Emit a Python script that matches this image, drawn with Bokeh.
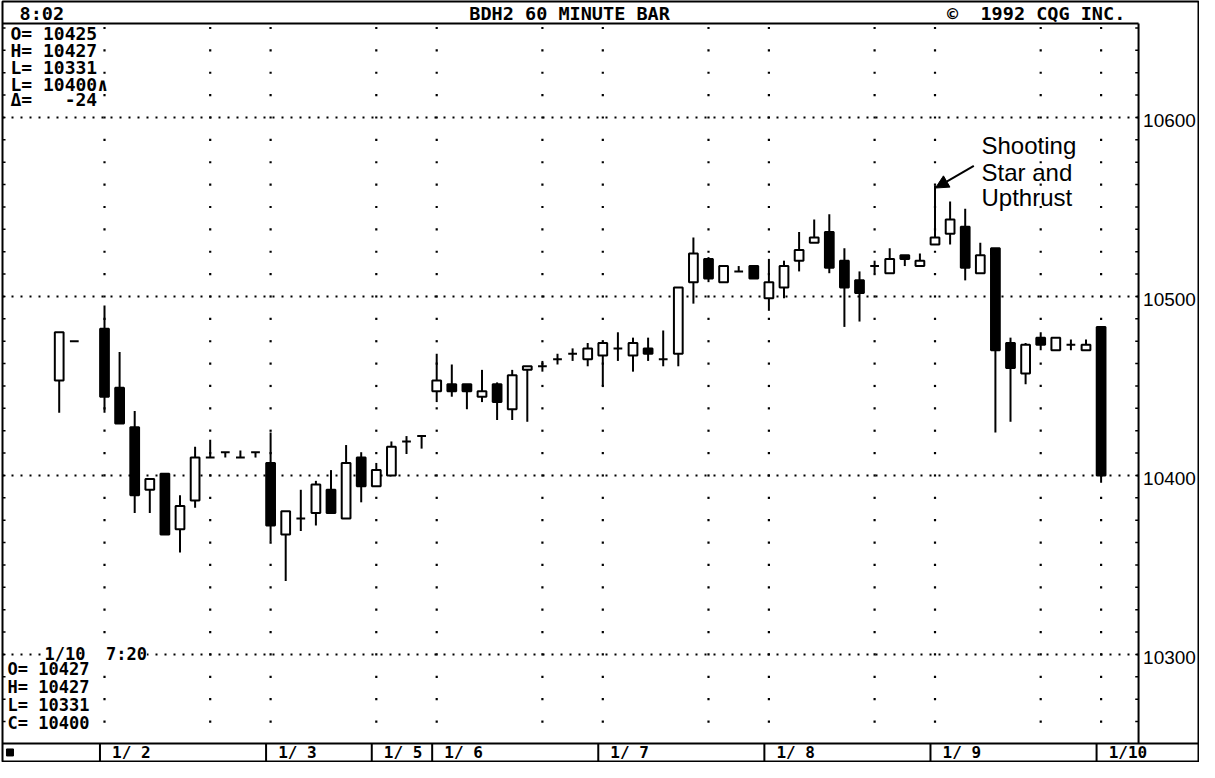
import numpy as np
from bokeh.plotting import figure
from bokeh.models import Range1d, ColumnDataSource, Arrow, NormalHead
from bokeh.core.properties import value
from bokeh.embed import file_html
from bokeh.resources import INLINE

# ---------------- data (60-minute bars, index = bar slot) ----------------
bar_index = [-3, -2, 0, 1, 2, 3, 4, 5, 6, 7, 8, 9, 10,
             11, 12, 13, 14, 15, 16, 17,
             18, 19, 20, 21,
             22, 23, 24, 25, 26, 27, 28, 29, 30, 31, 32,
             33, 34, 35, 36, 37, 38, 39, 40, 41, 42, 43,
             44, 45, 46, 47, 48, 49, 50, 51, 52, 53, 54,
             55, 56, 57, 58, 59, 60, 61, 62, 63, 64, 65,
             66]
opens = [10453, 10475, 10482, 10449, 10427, 10392, 10401, 10370, 10386, 10410, 10413, 10410, 10413,
         10407, 10367, 10376, 10379, 10392, 10376, 10410,
         10394, 10400, 10419, 10422,
         10447, 10451, 10451, 10444, 10451, 10437, 10459, 10461, 10465, 10468, 10465,
         10467, 10471, 10467, 10471, 10465, 10468, 10508, 10521, 10508, 10514, 10517,
         10499, 10505, 10520, 10530, 10536, 10520, 10509, 10517, 10513, 10523, 10517,
         10529, 10535, 10539, 10513, 10527, 10474, 10457, 10477, 10470, 10473, 10470,
         10483]
highs = [10480, 10475, 10495, 10469, 10436, 10398, 10401, 10389, 10416, 10420, 10413, 10414, 10413,
         10424, 10380, 10392, 10397, 10403, 10417, 10413,
         10407, 10419, 10422, 10422,
         10468, 10462, 10451, 10459, 10452, 10459, 10461, 10464, 10468, 10471, 10474,
         10474, 10480, 10477, 10477, 10481, 10505, 10533, 10522, 10517, 10517, 10517,
         10521, 10520, 10536, 10543, 10546, 10527, 10514, 10520, 10527, 10523, 10524,
         10562, 10553, 10549, 10530, 10527, 10477, 10474, 10480, 10477, 10476, 10476,
         10483]
lows = [10435, 10475, 10435, 10429, 10379, 10379, 10367, 10357, 10382, 10410, 10410, 10410, 10410,
        10363, 10341, 10369, 10372, 10379, 10376, 10385,
        10394, 10400, 10412, 10415,
        10441, 10444, 10437, 10441, 10431, 10431, 10430, 10458, 10462, 10464, 10461,
        10450, 10464, 10458, 10464, 10461, 10461, 10496, 10508, 10508, 10514, 10510,
        10492, 10499, 10514, 10530, 10513, 10483, 10486, 10513, 10513, 10517, 10517,
        10529, 10529, 10509, 10513, 10424, 10430, 10451, 10470, 10470, 10470, 10470,
        10396]
closes = [10480, 10475, 10444, 10429, 10389, 10398, 10367, 10383, 10410, 10410, 10413, 10410, 10413,
          10372, 10380, 10376, 10395, 10379, 10407, 10394,
          10403, 10416, 10419, 10422,
          10453, 10447, 10447, 10447, 10441, 10456, 10461, 10461, 10465, 10468, 10471,
          10474, 10471, 10474, 10468, 10465, 10505, 10524, 10510, 10517, 10514, 10510,
          10508, 10517, 10526, 10533, 10516, 10505, 10502, 10517, 10521, 10521, 10520,
          10533, 10543, 10516, 10523, 10470, 10460, 10473, 10473, 10477, 10473, 10473,
          10400]

day_starts = [0, 11, 18, 22, 33, 44, 55, 66]
day_labels = ["1/\u00a02", "1/\u00a03", "1/\u00a05", "1/\u00a06", "1/\u00a07", "1/\u00a08", "1/\u00a09", "1/10"]
time_lines = [0, 7, 11, 18, 22, 29, 33, 40, 44, 51, 55, 62, 66]
price_levels = [10300, 10400, 10500, 10600]
price_labels = ["10300", "10400", "10500", "10600"]
minor_levels = list(np.arange(10262.5, 10650.1, 12.5))

header_clock = "8:02"
header_title = "BDH2 60 MINUTE BAR"
header_copy = "\u00a9\u00a0\u00a01992 CQG INC."
top_info = ["O= 10425", "H= 10427", "L= 10331", "L= 10400\u2227", "\u0394=\u00a0\u00a0\u00a0-24"]
bottom_stamp = "1/10\u00a0\u00a07:20"
bottom_info = ["O= 10427", "H= 10427", "L= 10331", "C= 10400"]
note_lines = ["Shooting", "Star and", "Upthrust"]
star_bar = 55

# ---------------- layout (in bar-index / price units) ----------------
X0, X1 = -6.755, 72.45          # frame
XR = 68.48                      # right border of the price pane
Y_FRAME_TOP, Y_FRAME_BOT = 10664.8, 10240.2
Y_CHART_TOP, Y_CHART_BOT = 10652.5, 10250.3

p = figure(width=1199, height=762, output_backend="svg", toolbar_location=None,
           x_range=Range1d(X0, X1), y_range=Range1d(Y_FRAME_BOT, Y_FRAME_TOP),
           x_axis_location=None, y_axis_location=None)
p.min_border_left = 2
p.min_border_right = 1
p.min_border_top = 1
p.min_border_bottom = 1
p.grid.visible = False
p.outline_line_color = "black"
p.outline_line_width = 2
p.background_fill_color = "white"
p.border_fill_color = "white"

mono = value("DejaVu Sans Mono")
sans = value("Liberation Sans")

# dotted vertical time lines (dots every 12.5 points)
gx, gy = np.meshgrid(time_lines, minor_levels)
p.scatter(gx.ravel(), gy.ravel(), marker="square", size=2.2, color="black", line_width=0)

# dotted horizontal price lines
n = len(price_levels)
p.segment(x0=[X0] * n, x1=[XR] * n, y0=price_levels, y1=price_levels,
          line_color="black", line_width=2, line_dash="2 7")

# border ticks
m = len(minor_levels)
p.segment(x0=[XR - 0.22] * m, x1=[XR] * m, y0=minor_levels, y1=minor_levels,
          line_color="black", line_width=1.5)
p.segment(x0=[X0] * m, x1=[X0 + 0.2] * m, y0=minor_levels, y1=minor_levels,
          line_color="black", line_width=1.5)

# pane borders
p.segment(x0=[X0, XR, X0], x1=[XR, XR, X1],
          y0=[Y_CHART_TOP, Y_CHART_BOT, Y_CHART_BOT],
          y1=[Y_CHART_TOP, Y_CHART_TOP, Y_CHART_BOT],
          line_color="black", line_width=2)

# date strip
seps = [d - 0.3 for d in day_starts]
k = len(seps)
p.segment(x0=seps, x1=seps, y0=[Y_FRAME_BOT] * k, y1=[Y_CHART_BOT] * k,
          line_color="black", line_width=2)
p.text(x=[d + 0.5 for d in day_starts], y=[10245.3] * k, text=day_labels,
       text_font=mono, text_font_style="bold", text_font_size="16px",
       text_baseline="middle", text_align="left", text_color="black")
p.scatter([-6.26], [(Y_CHART_BOT + Y_FRAME_BOT) / 2], marker="square", size=7,
          color="black")

# candles
o = np.array(opens, float)
c = np.array(closes, float)
src = ColumnDataSource(dict(
    x=bar_index, h=highs, l=lows,
    top=np.maximum(o, c), bottom=np.minimum(o, c),
    fill=["black" if cc < oo else "white" for oo, cc in zip(opens, closes)]))
p.segment(x0="x", x1="x", y0="l", y1="h", source=src, line_color="black", line_width=2)
p.vbar(x="x", top="top", bottom="bottom", width=0.58, source=src,
       fill_color="fill", line_color="black", line_width=2)

# price labels
p.text(x=[XR + 0.3] * n, y=price_levels, text=price_labels, text_font=sans,
       text_font_size="19px", text_baseline="middle", text_align="left",
       text_color="black", y_offset=3)

# header
hy = 10658.1
p.text(x=[-5.63], y=[hy], text=[header_clock], text_font=mono, text_font_style="bold",
       text_font_size="18.5px", text_baseline="middle", text_align="left")
p.text(x=[30.8, 61.7], y=[hy, hy], text=[header_title, header_copy], text_font=mono,
       text_font_style="bold", text_font_size="18.5px", text_baseline="middle",
       text_align="center")

# info blocks
p.text(x=[-6.225] * len(top_info), y=[10647.2, 10637.7, 10628.2, 10618.7, 10609.8],
       text=top_info, text_font=mono, text_font_style="bold", text_font_size="18px",
       text_baseline="middle", text_align="left")
p.text(x=[-3.97], y=[10300.0], text=[bottom_stamp], text_font=mono,
       text_font_style="bold", text_font_size="17px", text_baseline="middle",
       text_align="left", background_fill_color="white")
p.text(x=[-6.42] * len(bottom_info), y=[10291.6, 10281.6, 10271.5, 10261.5],
       text=bottom_info, text_font=mono, text_font_style="bold", text_font_size="17px",
       text_baseline="middle", text_align="left")

# annotation
p.text(x=[58.08] * 3, y=[10584.1, 10569.1, 10555.1], text=note_lines, text_font=sans,
       text_font_size="24px", text_baseline="middle", text_align="left")
sx = bar_index.index(star_bar)
p.add_layout(Arrow(end=NormalHead(size=13, fill_color="black", line_color="black", line_width=1),
                   x_start=star_bar + 2.57, y_start=highs[sx] + 11,
                   x_end=star_bar + 0.03, y_end=highs[sx] - 1.4,
                   line_color="black", line_width=2))

open("out.html", "w").write(file_html(p, INLINE))
